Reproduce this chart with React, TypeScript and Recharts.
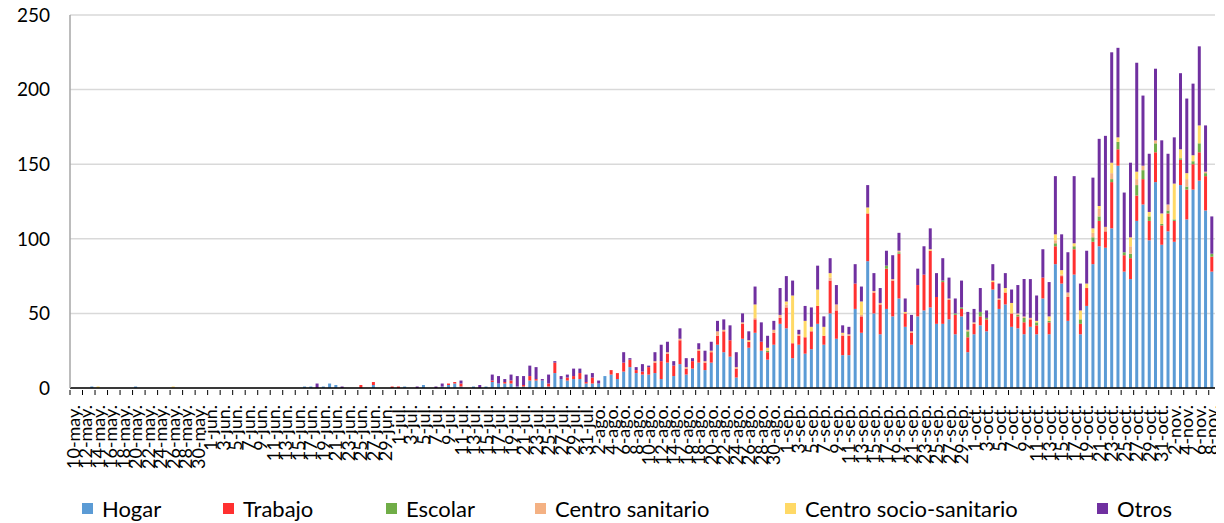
import React from "react";
import { BarChart, Bar, XAxis, YAxis, CartesianGrid, Legend } from "recharts";

// Tick labels: daily categories from 10-may to 8-nov
const monthSpans: [string, number, number][] = [
  ["may", 10, 31],
  ["jun", 1, 30],
  ["jul", 1, 31],
  ["ago", 1, 31],
  ["sep", 1, 30],
  ["oct", 1, 31],
  ["nov", 1, 8],
];
const categories: string[] = [];
monthSpans.forEach(([m, a, b]) => {
  for (let d = a; d <= b; d++) categories.push(`${d}-${m}.`);
});

const yTicks = [0, 50, 100, 150, 200, 250];

const hogar = [
  0,0,0,1,0,0,0,0,0,0,
  1,0,0,0,0,0,0,0,0,0,
  0,0,0,0,0,0,0,0,0,0,
  0,0,0,0,0,0,0,1,1,0,
  1,3,2,0,0,0,0,0,2,0,
  0,0,0,1,0,0,2,0,0,1,
  2,3,1,0,1,0,1,4,3,3,
  3,1,1,5,5,5,1,10,6,5,
  6,6,3,3,3,8,9,6,11,14,
  10,9,9,10,6,17,8,16,9,13,
  17,12,17,29,24,21,7,33,27,37,
  25,19,29,43,40,20,29,23,26,43,
  29,50,33,22,22,53,37,85,50,36,
  53,48,60,41,29,48,52,54,43,43,
  46,36,48,24,36,42,38,66,53,56,
  41,40,36,41,36,60,36,83,70,45,
  76,36,55,83,95,94,107,149,78,73,
  112,123,99,138,96,105,98,136,113,133,
  139,119,78,
];

const trabajo = [
  0,0,0,0,0,0,0,0,0,0,
  0,0,0,0,0,0,0,0,0,0,
  0,0,0,0,0,0,0,0,0,0,
  0,0,0,0,0,0,0,0,0,0,
  0,0,0,0,0,0,2,0,2,0,
  0,1,1,0,0,0,0,0,0,0,
  1,1,2,0,0,0,0,1,0,1,
  2,0,1,3,1,0,2,7,0,2,
  2,4,1,4,0,0,3,4,6,5,
  2,2,5,7,12,6,7,16,4,5,
  8,5,7,6,14,11,6,10,4,9,
  6,5,8,4,14,10,6,11,12,12,
  6,22,19,13,13,17,11,32,14,20,
  27,24,30,9,8,21,24,38,18,28,
  13,13,5,10,7,6,8,5,6,8,
  9,8,8,5,6,14,8,12,5,16,
  17,7,12,15,17,11,31,11,11,14,
  17,17,13,20,13,12,14,17,20,17,
  19,23,10,
];

const escolar = [
  0,0,0,0,0,0,0,0,0,0,
  0,0,0,0,0,0,0,0,0,0,
  0,0,0,0,0,0,0,0,0,0,
  0,0,0,0,0,0,0,0,0,0,
  0,0,0,0,0,0,0,0,0,0,
  0,0,0,0,0,0,0,0,0,0,
  0,0,0,0,0,0,0,0,0,0,
  0,0,0,0,0,0,0,0,0,0,
  0,0,0,0,0,0,0,0,0,0,
  0,0,0,0,0,0,0,0,0,0,
  0,0,0,0,0,0,0,0,0,0,
  0,1,0,0,0,0,0,0,0,0,
  0,0,0,0,0,0,0,0,0,0,
  2,0,1,0,0,0,0,0,0,1,
  0,1,1,4,0,3,1,0,0,0,
  0,1,3,0,2,0,1,2,0,0,
  2,3,0,3,3,0,2,5,2,3,
  7,6,3,6,1,2,1,1,2,2,
  6,2,2,
];

const centroSanitario = [
  0,0,0,0,0,0,0,0,0,0,
  0,0,0,0,0,0,0,0,0,0,
  0,0,0,0,0,0,0,0,0,0,
  0,0,0,0,0,0,0,0,0,0,
  0,0,0,0,0,0,0,0,0,0,
  0,0,0,0,0,0,0,0,0,0,
  0,0,0,0,0,0,0,0,0,0,
  0,0,0,0,0,0,0,0,0,0,
  0,0,0,0,0,0,0,0,0,0,
  0,0,0,1,0,1,0,1,1,0,
  1,1,1,3,1,0,1,1,0,1,
  0,0,2,2,2,0,1,0,0,0,
  0,2,4,1,1,0,1,0,1,1,
  0,1,1,0,1,0,0,0,0,0,
  1,0,0,1,1,0,0,0,1,0,
  0,1,1,1,0,0,0,2,1,3,
  0,0,0,3,5,3,4,0,0,5,
  4,3,0,2,0,4,0,0,5,0,
  0,1,0,
];

const centroSocioSanitario = [
  0,0,0,0,1,0,0,0,0,0,
  0,0,0,0,0,0,1,0,0,0,
  0,0,0,0,0,0,0,0,0,0,
  0,0,0,0,0,0,0,0,0,0,
  0,0,0,0,0,0,0,0,0,0,
  0,0,0,0,0,0,0,0,0,0,
  0,0,0,0,0,0,0,0,0,0,
  0,0,0,0,0,0,0,0,0,0,
  0,0,0,0,0,0,0,0,0,0,
  0,0,0,0,0,0,0,0,0,0,
  0,0,0,0,0,0,0,0,1,9,
  0,2,0,0,2,32,0,11,3,11,
  6,3,0,1,0,0,9,4,0,0,
  0,0,0,1,0,0,0,1,0,0,
  0,0,0,0,0,0,0,1,0,3,
  7,0,0,0,1,0,3,4,3,0,
  2,6,3,3,2,0,7,3,0,6,
  5,0,3,0,7,0,24,6,4,4,
  12,0,0,
];

const otros = [
  0,0,0,0,0,0,0,0,0,0,
  0,0,0,0,0,0,0,0,0,0,
  0,0,0,0,0,0,0,0,0,0,
  0,0,0,0,0,0,0,0,0,3,
  0,0,0,1,0,0,0,0,0,0,
  0,0,0,0,0,1,0,0,1,2,
  0,0,2,0,0,2,0,4,5,2,
  4,7,6,7,8,1,6,1,2,2,
  5,3,5,3,2,0,0,0,7,1,
  2,5,1,6,11,7,3,7,6,2,
  4,7,6,7,7,10,10,6,6,12,
  13,8,6,18,17,10,3,10,13,16,
  7,10,13,5,5,13,10,15,12,10,
  10,16,12,9,11,11,19,14,16,15,
  14,10,18,12,9,16,5,11,10,10,
  9,19,25,26,17,19,23,39,24,27,
  45,18,22,34,45,61,74,60,40,50,
  73,47,39,48,49,34,31,51,50,48,
  53,31,25,
];

const seriesNames = ["Hogar", "Trabajo", "Escolar", "Centro sanitario", "Centro socio-sanitario", "Otros"];
const seriesKeys = ["hogar", "trabajo", "escolar", "cs", "css", "otros"];
const seriesColors = ["#5b9bd5", "#ff3030", "#70ad47", "#f4b183", "#ffd966", "#7030a0"];

const data = categories.map((day, i) => ({
  day,
  hogar: hogar[i],
  trabajo: trabajo[i],
  escolar: escolar[i],
  cs: centroSanitario[i],
  css: centroSocioSanitario[i],
  otros: otros[i],
}));

const FONT = "Lato, 'Open Sans', sans-serif";

const XTick = (props: any) => {
  const { x, y, payload } = props;
  const off = payload && payload.offset ? payload.offset : 0;
  const ty = y + 15;
  return (
    <g>
      <line x1={x - off} x2={x - off} y1={y} y2={y + 5} stroke="#000" strokeWidth={1} />
      <text
        x={x}
        y={ty}
        transform={`rotate(-90, ${x}, ${ty})`}
        textAnchor="end"
        dy="0.36em"
        fontSize={18}
        fontFamily={FONT}
        fill="#000"
      >
        {payload.value}
      </text>
    </g>
  );
};

const legendLeft = [82, 223, 386, 535, 785, 1097];

const LegendContent = () => (
  <div style={{ position: "relative", width: 1224, height: 30 }}>
    {seriesNames.map((n, i) => (
      <div
        key={n}
        style={{
          position: "absolute",
          left: legendLeft[i],
          top: 0,
          height: 30,
          display: "flex",
          alignItems: "center",
          fontFamily: FONT,
          fontSize: 22,
          color: "#000",
          whiteSpace: "nowrap",
        }}
      >
        <span style={{ display: "inline-block", width: 11, height: 11, background: seriesColors[i], marginRight: 9 }} />
        <span>{n}</span>
      </div>
    ))}
  </div>
);

export default function App() {
  return (
    <div style={{ marginTop: -8, marginLeft: -8 }}>
      <BarChart
        width={1224}
        height={523}
        data={data}
        margin={{ top: 15, right: 9, left: 0, bottom: 0 }}
        barCategoryGap="25%"
      >
        <CartesianGrid vertical={false} stroke="#d9d9d9" strokeWidth={1.5} />
        <XAxis
          dataKey="day"
          interval={1}
          height={105}
          tickLine={false}
          tickSize={0}
          tick={<XTick />}
          axisLine={{ stroke: "#000", strokeWidth: 1.5 }}
        />
        <YAxis
          width={70}
          domain={[0, 250]}
          ticks={yTicks}
          interval={0}
          tickLine={false}
          tickSize={0}
          tickMargin={20}
          axisLine={{ stroke: "#a6a6a6", strokeWidth: 1.5 }}
          tick={{ fontSize: 19, fontFamily: FONT, fill: "#000" }}
        />
        <Legend verticalAlign="bottom" height={30} content={<LegendContent />} />
        {seriesKeys.map((k, i) => (
          <Bar key={k} dataKey={k} name={seriesNames[i]} stackId="a" fill={seriesColors[i]} isAnimationActive={false} />
        ))}
      </BarChart>
    </div>
  );
}
